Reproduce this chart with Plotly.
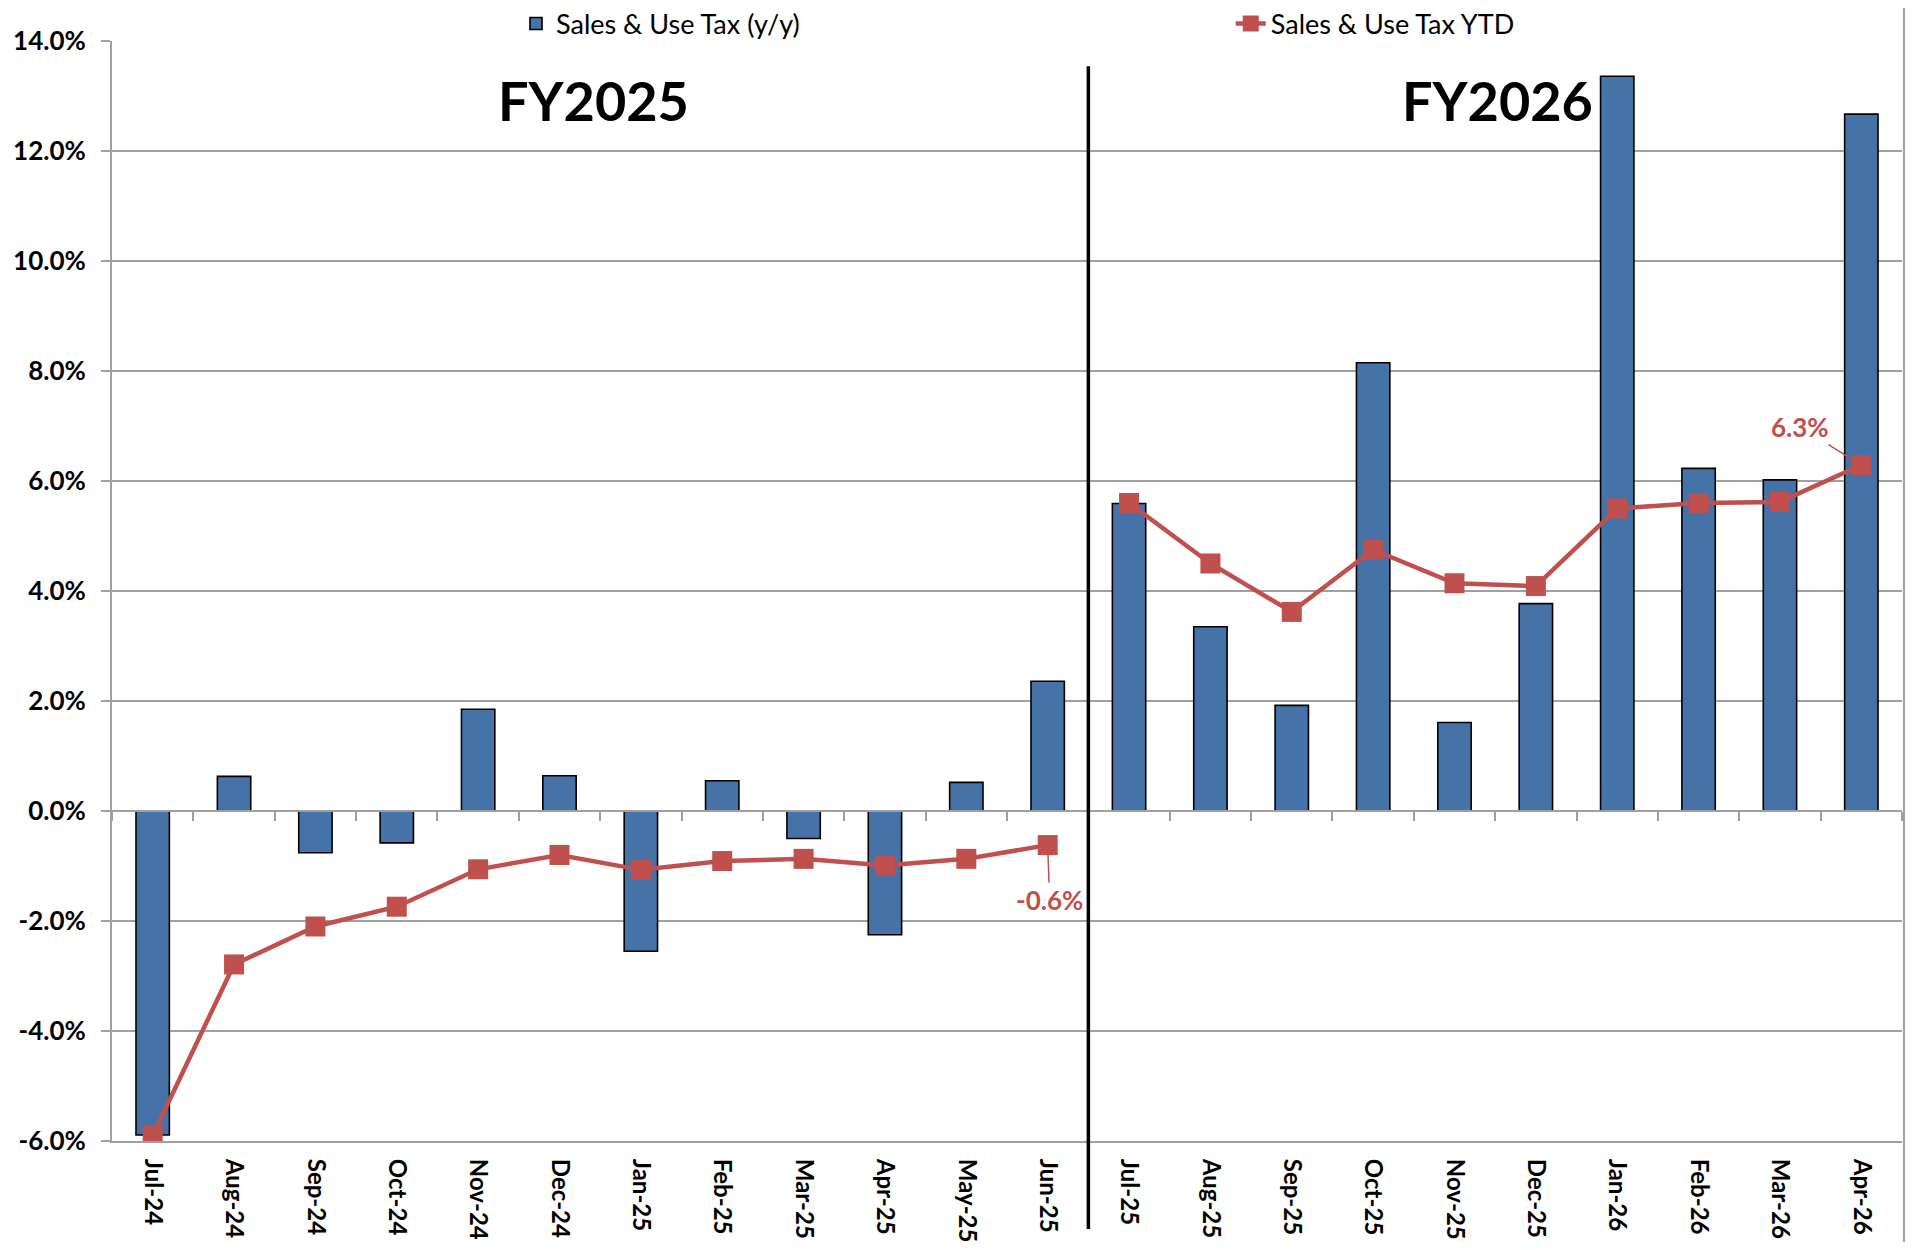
import plotly.graph_objects as go

# ---------------- data ----------------
months = ["Jul-24", "Aug-24", "Sep-24", "Oct-24", "Nov-24", "Dec-24", "Jan-25", "Feb-25",
          "Mar-25", "Apr-25", "May-25", "Jun-25", "Jul-25", "Aug-25", "Sep-25", "Oct-25",
          "Nov-25", "Dec-25", "Jan-26", "Feb-26", "Mar-26", "Apr-26"]
sales_use_yy = [-5.89, 0.63, -0.76, -0.58, 1.85, 0.64, -2.55, 0.55, -0.50, -2.25, 0.52, 2.36,
                5.59, 3.35, 1.92, 8.15, 1.61, 3.77, 13.36, 6.23, 6.02, 12.67]
sales_use_ytd = [-5.90, -2.79, -2.10, -1.74, -1.06, -0.80, -1.07, -0.91, -0.87, -0.99, -0.87, -0.62,
                 5.60, 4.50, 3.62, 4.75, 4.14, 4.09, 5.50, 5.60, 5.62, 6.29]
y_tick_vals = [-6, -4, -2, 0, 2, 4, 6, 8, 10, 12, 14]
y_tick_text = ["-6.0%", "-4.0%", "-2.0%", "0.0%", "2.0%", "4.0%", "6.0%", "8.0%",
               "10.0%", "12.0%", "14.0%"]
fiscal_years = ["FY2025", "FY2026"]
fy_split_index = 12  # first month of FY2026

# ---------------- styles ----------------
BAR_BLUE = "#4572A7"
LINE_RED = "#C0504D"
GRID = "#A0A0A0"
FONT = "Lato"

n = len(months)
y_min, y_max = y_tick_vals[0], y_tick_vals[-1]
zero_pos = (0 - y_min) / (y_max - y_min)

fig = go.Figure()
fig.add_trace(go.Bar(
    x=months, y=sales_use_yy, name="Sales & Use Tax (y/y)",
    marker=dict(color=BAR_BLUE, line=dict(color="black", width=1.6)),
    legend="legend",
))
# YTD line, broken between fiscal years
segments = [(0, fy_split_index), (fy_split_index, n)]
for k, (a, b) in enumerate(segments):
    fig.add_trace(go.Scatter(
        x=months[a:b], y=sales_use_ytd[a:b], name="Sales & Use Tax YTD",
        mode="lines+markers", legendgroup="ytd", showlegend=(k == 0),
        line=dict(color=LINE_RED, width=4.5),
        marker=dict(symbol="square", size=20, color=LINE_RED),
        legend="legend2",
    ))
# invisible helper trace for the zero-crossing category axis (ticks at boundaries)
fig.add_trace(go.Scatter(
    x=list(range(n)), y=[None] * n, xaxis="x2", yaxis="y",
    showlegend=False, hoverinfo="skip", mode="markers",
))

# data labels for last point of each fiscal year
i_fy25_last = fy_split_index - 1
i_fy26_last = n - 1
fig.add_annotation(
    x=months[i_fy25_last], y=sales_use_ytd[i_fy25_last], xref="x", yref="y",
    text=f"{sales_use_ytd[i_fy25_last]:.1f}%", showarrow=True, arrowhead=0,
    arrowcolor=LINE_RED, arrowwidth=1.5, ax=2, ay=55, standoff=10,
    font=dict(family=FONT, size=26, color=LINE_RED, weight="bold"),
)
fig.add_annotation(
    x=months[i_fy26_last], y=sales_use_ytd[i_fy26_last], xref="x", yref="y",
    text=f"{sales_use_ytd[i_fy26_last]:.1f}%", showarrow=True, arrowhead=0,
    arrowcolor=LINE_RED, arrowwidth=1.5, ax=-61, ay=-38, standoff=10,
    font=dict(family=FONT, size=26, color=LINE_RED, weight="bold"),
)

# fiscal year titles
for fy, px in zip(fiscal_years, [0.269, 0.774]):
    fig.add_annotation(
        x=px, y=0.946, xref="paper", yref="paper", text=fy, showarrow=False,
        font=dict(family=FONT, size=54, color="black", weight="bold"),
        xanchor="center", yanchor="middle",
    )

# divider between fiscal years
fig.add_shape(type="line", xref="x2", yref="paper",
              x0=fy_split_index - 0.5, x1=fy_split_index - 0.5, y0=-0.08, y1=0.977,
              line=dict(color="black", width=3.5))

# outer chart border
fig.add_shape(type="rect", xref="paper", yref="paper",
              x0=-0.0587, x1=1.0011, y0=-0.2, y1=1.2,
              line=dict(color=GRID, width=2), fillcolor="rgba(0,0,0,0)", layer="below")

fig.update_layout(
    width=1901, height=1234,
    margin=dict(l=104, r=7, t=33, b=101, pad=0, autoexpand=False),
    paper_bgcolor="white", plot_bgcolor="white",
    font=dict(family=FONT, color="black"),
    bargap=0.59,
    xaxis=dict(
        type="category", range=[-0.5, n - 0.5], automargin=False,
        tickangle=90, ticks="", showgrid=False,
        showline=True, linecolor=GRID, linewidth=2,
        tickfont=dict(family=FONT, size=24, color="black", weight="bold"),
        ticklabelstandoff=11,
    ),
    xaxis2=dict(
        type="linear", range=[-0.5, n - 0.5], overlaying="x", anchor="free",
        position=zero_pos, showline=True, linecolor=GRID, linewidth=2, automargin=False,
        tickvals=[k - 0.5 for k in range(n + 1)], ticks="outside", ticklen=9,
        tickcolor=GRID, tickwidth=2, showticklabels=False, showgrid=False, zeroline=False,
    ),
    yaxis=dict(
        range=[y_min, y_max], tickvals=y_tick_vals, ticktext=y_tick_text, automargin=False,
        showgrid=True, gridcolor=GRID, gridwidth=2, zeroline=False,
        showline=True, linecolor=GRID, linewidth=2,
        ticks="outside", ticklen=9, tickcolor=GRID, tickwidth=2,
        tickfont=dict(family=FONT, size=26, color="black", weight="bold"),
        ticklabelstandoff=10,
    ),
    legend=dict(
        x=0.2257, y=1.0155, xanchor="left", yanchor="middle", orientation="h",
        font=dict(family=FONT, size=27, color="black"), bgcolor="rgba(0,0,0,0)",
    ),
    legend2=dict(
        x=0.625, y=1.0155, xanchor="left", yanchor="middle", orientation="h",
        font=dict(family=FONT, size=27, color="black"), bgcolor="rgba(0,0,0,0)",
    ),
    showlegend=True,
)

fig.write_html("out.html")
